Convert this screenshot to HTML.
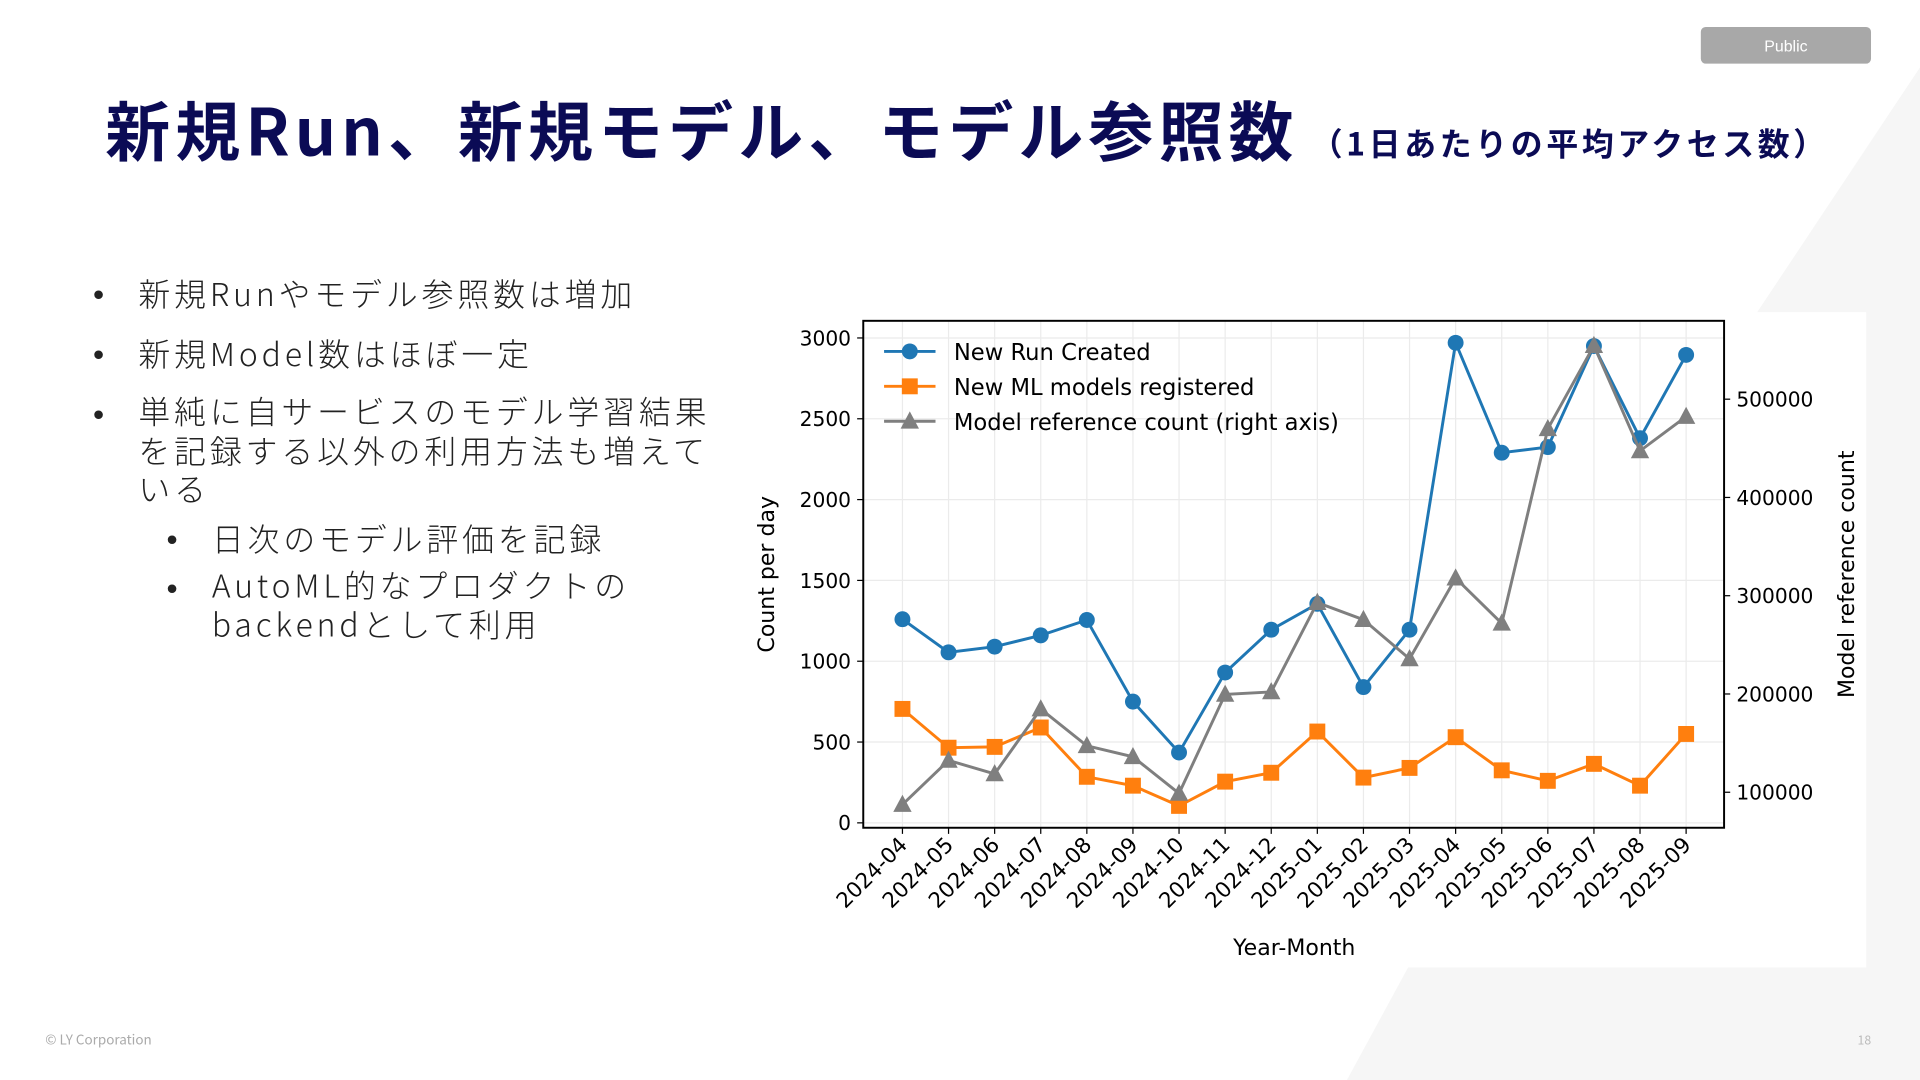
<!DOCTYPE html>
<html><head><meta charset="utf-8"><style>
html,body{margin:0;padding:0;width:1920px;height:1080px;overflow:hidden;background:#fff}
#stage{position:absolute;left:0;top:0;width:1568px;height:882px;transform:scale(1.22449);transform-origin:0 0;font-family:"Noto Sans CJK JP","Liberation Sans",sans-serif}
.t{position:absolute;white-space:nowrap}
</style></head><body>
<div id="stage">
<svg width="1568" height="882" style="position:absolute;left:0;top:0">
<polygon points="1435,255 1568,55 1568,882 1100,882 1150,790 1524,790 1524,255" fill="#f6f6f6"/>
<rect x="600" y="255" width="924" height="535" fill="#fff"/>
</svg>
<div class="t" style="left:1389px;top:22px;width:139px;height:30px;background:#a8a8a8;border-radius:4px;color:#fff;font-size:13px;line-height:32px;text-align:center;font-family:'Liberation Sans',sans-serif">Public</div>
<div class="t" style="left:86px;top:70px;font-size:53px;font-weight:bold;color:#0b0b55;line-height:70px;letter-spacing:4.2px">新規Run、新規モデル、モデル参照数<span style="font-size:26px;margin-left:10px;letter-spacing:3px">（1日あたりの平均アクセス数）</span></div>
<div style="position:absolute;left:0;top:0;font-size:26px;color:#222;font-weight:300;line-height:36px;letter-spacing:3.2px">
<div class="t" style="left:76px;top:222px;font-family:'Liberation Sans';font-weight:normal">•</div><div class="t" style="left:113px;top:222px">新規Runやモデル参照数は増加</div>
<div class="t" style="left:76px;top:271px;font-family:'Liberation Sans';font-weight:normal">•</div><div class="t" style="left:113px;top:271px">新規Model数はほぼ一定</div>
<div class="t" style="left:76px;top:320px;font-family:'Liberation Sans';font-weight:normal">•</div><div class="t" style="left:113px;top:320px;line-height:31.5px">単純に自サービスのモデル学習結果<br>を記録する以外の利用方法も増えて<br>いる</div>
<div class="t" style="left:136px;top:422px;font-family:'Liberation Sans';font-weight:normal">•</div><div class="t" style="left:173px;top:422px">日次のモデル評価を記録</div>
<div class="t" style="left:136px;top:462px;font-family:'Liberation Sans';font-weight:normal">•</div><div class="t" style="left:173px;top:462px;line-height:32px">AutoML的なプロダクトの<br>backendとして利用</div>
</div>
<div class="t" style="left:37px;top:841px;font-size:11px;color:#aaa">© LY Corporation</div>
<div class="t" style="left:1517px;top:841px;font-size:10px;color:#bbb">18</div>
<svg id="chart" width="1568" height="882" style="position:absolute;left:0;top:0;font-family:'DejaVu Sans',sans-serif"></svg>
</div>
<script>
const months=["2024-04","2024-05","2024-06","2024-07","2024-08","2024-09","2024-10","2024-11","2024-12","2025-01","2025-02","2025-03","2025-04","2025-05","2025-06","2025-07","2025-08","2025-09"];
const runCreated=[1260,1055,1090,1160,1255,750,435,930,1195,1355,840,1195,2970,2290,2325,2950,2380,2895];
const mlModels=[705,465,470,590,285,230,105,255,310,565,280,340,530,325,260,365,230,550];
const modelRefs=[87500,132400,118700,184700,147300,136100,98800,199600,202100,293000,275600,235700,317900,271900,469900,554500,447400,482300];
const leftTicks=[0,500,1000,1500,2000,2500,3000];
const rightTicks=[100000,200000,300000,400000,500000];

const svg=document.getElementById('chart');
const NS='http://www.w3.org/2000/svg';
const L=705,R=1408,T=262,B=676;
const x=i=>737+i*(1377-737)/(months.length-1);
const yL=v=>672-v*(672-276)/3000;
const yR=v=>647-(v-100000)*(647-326)/400000;
function el(tag,attrs,parent){const e=document.createElementNS(NS,tag);for(const k in attrs)e.setAttribute(k,attrs[k]);(parent||svg).appendChild(e);return e;}

const grid=el('g',{});


months.forEach((m,i)=>el('line',{x1:x(i),x2:x(i),y1:T,y2:B,stroke:'#ebebeb','stroke-width':1},grid));
leftTicks.forEach(v=>el('line',{x1:L,x2:R,y1:yL(v),y2:yL(v),stroke:'#ebebeb','stroke-width':1},grid));

function series(vals,yf,color,marker,name){
  const g=el('g',{});
  
  
  el('polyline',{points:vals.map((v,i)=>x(i)+','+yf(v)).join(' '),fill:'none',stroke:color,'stroke-width':2.4},g);
  vals.forEach((v,i)=>{
    const cx=x(i),cy=yf(v);let m;
    if(marker==='o')m=el('circle',{cx:cx,cy:cy,r:6.5,fill:color},g);
    else if(marker==='s')m=el('rect',{x:cx-6.5,y:cy-6.5,width:13,height:13,fill:color},g);
    else m=el('polygon',{points:`${cx},${cy-8} ${cx+7.5},${cy+6} ${cx-7.5},${cy+6}`,fill:color},g);
    
    
  });
}
series(runCreated,yL,'#1f77b4','o','series-new-run');
series(mlModels,yL,'#ff7f0e','s','series-new-ml-models');
series(modelRefs,yR,'#7f7f7f','^','series-model-references');

el('rect',{x:L,y:T,width:R-L,height:B-T,fill:'none',stroke:'#000','stroke-width':1.6});

leftTicks.forEach(v=>{
  el('line',{x1:L-5,x2:L,y1:yL(v),y2:yL(v),stroke:'#000'});
  const t=el('text',{x:L-10,y:yL(v)+6,'text-anchor':'end','font-size':16.5,fill:'#000'});t.textContent=v;
  
  
});
rightTicks.forEach(v=>{
  el('line',{x1:R,x2:R+5,y1:yR(v),y2:yR(v),stroke:'#000'});
  const t=el('text',{x:R+10,y:yR(v)+6,'font-size':16.5,fill:'#000'});t.textContent=v;
  
  
});
months.forEach((m,i)=>{
  el('line',{x1:x(i),x2:x(i),y1:B,y2:B+5,stroke:'#000'});
  const t=el('text',{x:x(i)+5,y:B+15,'text-anchor':'end','font-size':17.5,fill:'#000',transform:`rotate(-45 ${x(i)+5} ${B+15})`});t.textContent=m;
  
  
});
let a=el('text',{x:1057,y:780,'text-anchor':'middle','font-size':18});a.textContent='Year-Month';


a=el('text',{x:632,y:469,'text-anchor':'middle','font-size':18,transform:'rotate(-90 632 469)'});a.textContent='Count per day';


a=el('text',{x:1514,y:469,'text-anchor':'middle','font-size':18,transform:'rotate(-90 1514 469)'});a.textContent='Model reference count';



const legendItems=[['New Run Created','#1f77b4','o'],['New ML models registered','#ff7f0e','s'],['Model reference count (right axis)','#7f7f7f','^']];
legendItems.forEach((it,i)=>{
  const g=el('g',{});
  
  
  const cy=287+i*28.5;
  el('line',{x1:722,x2:764,y1:cy,y2:cy,stroke:it[1],'stroke-width':2.4},g);
  if(it[2]==='o')el('circle',{cx:743,cy:cy,r:6.5,fill:it[1]},g);
  else if(it[2]==='s')el('rect',{x:736.5,y:cy-6.5,width:13,height:13,fill:it[1]},g);
  else el('polygon',{points:`743,${cy-8} 750.5,${cy+6} 735.5,${cy+6}`,fill:it[1]},g);
  const t=el('text',{x:779,y:cy+7,'font-size':18.5,fill:'#000'},g);t.textContent=it[0];
});
</script>
</body></html>
